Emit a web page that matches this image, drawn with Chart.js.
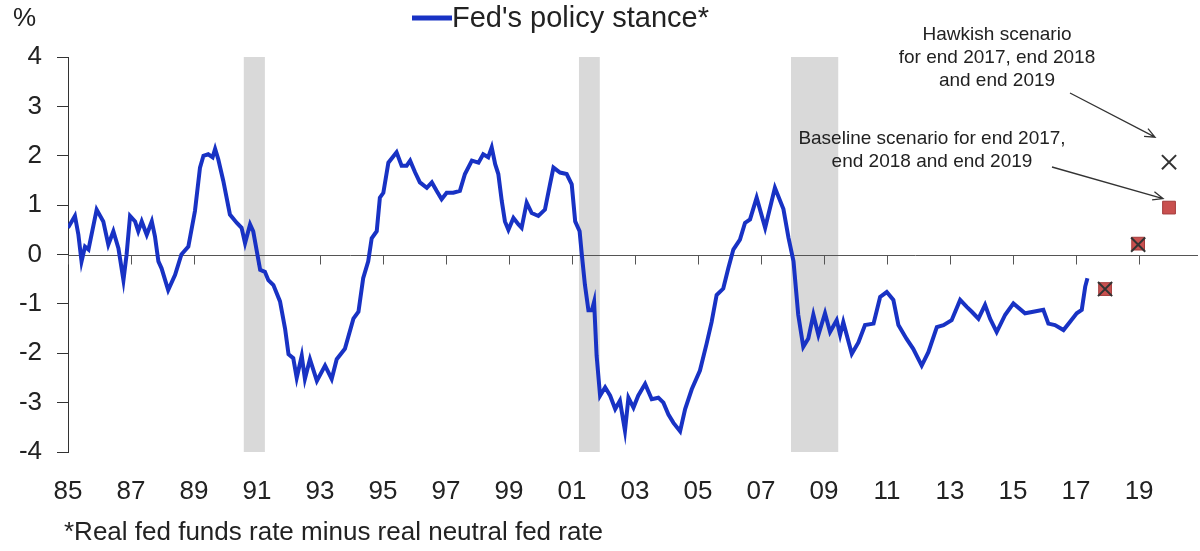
<!DOCTYPE html>
<html>
<head>
<meta charset="utf-8">
<script src="https://cdn.jsdelivr.net/npm/chart.js@4.4.0/dist/chart.umd.min.js"></script>
<style>
  body { margin: 0; background: #fff; }
  #wrap { position: relative; width: 1200px; height: 551px; }
</style>
</head>
<body>
<div id="wrap"><canvas id="stanceChart"></canvas></div>
<script>
// Fed's policy stance (real fed funds rate minus real neutral rate)
const stanceYears = [
  1985.00, 1985.22, 1985.33, 1985.43, 1985.54, 1985.65, 1985.91, 1986.12, 1986.28, 1986.44,
  1986.60, 1986.76, 1986.86, 1986.97, 1987.13, 1987.23, 1987.34, 1987.50, 1987.66, 1987.76,
  1987.87, 1987.97, 1988.18, 1988.40, 1988.60, 1988.82, 1989.03, 1989.19, 1989.30, 1989.45,
  1989.59, 1989.67, 1989.77, 1989.93, 1990.14, 1990.36, 1990.51, 1990.62, 1990.78, 1990.88,
  1991.10, 1991.25, 1991.36, 1991.52, 1991.73, 1991.89, 1992.00, 1992.15, 1992.26, 1992.42,
  1992.52, 1992.68, 1992.90, 1993.16, 1993.37, 1993.53, 1993.79, 1994.06, 1994.22, 1994.37,
  1994.53, 1994.64, 1994.80, 1994.90, 1995.01, 1995.17, 1995.43, 1995.59, 1995.75, 1995.86,
  1996.02, 1996.17, 1996.39, 1996.55, 1996.70, 1996.86, 1997.02, 1997.23, 1997.44, 1997.60,
  1997.82, 1998.03, 1998.18, 1998.34, 1998.45, 1998.56, 1998.66, 1998.77, 1998.87, 1998.98,
  1999.14, 1999.30, 1999.40, 1999.56, 1999.72, 1999.93, 2000.14, 2000.30, 2000.41, 2000.62,
  2000.83, 2000.99, 2001.10, 2001.24, 2001.31, 2001.41, 2001.52, 2001.63, 2001.70, 2001.78,
  2001.89, 2002.05, 2002.21, 2002.37, 2002.52, 2002.68, 2002.79, 2002.95, 2003.10, 2003.32,
  2003.53, 2003.74, 2003.90, 2004.06, 2004.22, 2004.43, 2004.59, 2004.80, 2005.06, 2005.27,
  2005.43, 2005.59, 2005.80, 2005.96, 2006.12, 2006.33, 2006.49, 2006.65, 2006.86, 2007.13,
  2007.44, 2007.71, 2007.87, 2008.03, 2008.18, 2008.34, 2008.50, 2008.66, 2008.82, 2009.03,
  2009.19, 2009.40, 2009.51, 2009.61, 2009.88, 2010.09, 2010.30, 2010.57, 2010.78, 2010.99,
  2011.20, 2011.36, 2011.62, 2011.83, 2012.10, 2012.31, 2012.58, 2012.79, 2013.05, 2013.32,
  2013.53, 2013.69, 2013.90, 2014.11, 2014.27, 2014.48, 2014.75, 2015.01, 2015.38, 2015.64,
  2015.96, 2016.12, 2016.33, 2016.60, 2016.81, 2017.02, 2017.18, 2017.29, 2017.36
];
const stanceValues = [
  0.54, 0.78, 0.40, -0.14, 0.16, 0.10, 0.91, 0.67, 0.20, 0.47,
  0.13, -0.52, 0.00, 0.78, 0.67, 0.47, 0.67, 0.40, 0.67, 0.37,
  -0.14, -0.28, -0.72, -0.41, 0.00, 0.16, 0.88, 1.76, 2.00, 2.03,
  1.97, 2.14, 1.93, 1.49, 0.81, 0.64, 0.54, 0.23, 0.61, 0.47,
  -0.31, -0.35, -0.52, -0.62, -0.95, -1.50, -2.02, -2.10, -2.50, -2.05,
  -2.52, -2.12, -2.56, -2.25, -2.52, -2.12, -1.91, -1.30, -1.16, -0.48,
  -0.14, 0.33, 0.47, 1.15, 1.25, 1.86, 2.07, 1.80, 1.80, 1.90,
  1.66, 1.46, 1.35, 1.46, 1.29, 1.12, 1.25, 1.25, 1.29, 1.63,
  1.90, 1.86, 2.03, 1.97, 2.17, 1.83, 1.63, 1.08, 0.67, 0.50,
  0.74, 0.61, 0.54, 1.05, 0.84, 0.78, 0.91, 1.42, 1.76, 1.66,
  1.63, 1.42, 0.67, 0.47, 0.00, -0.62, -1.13, -1.13, -0.96, -2.05,
  -2.86, -2.69, -2.86, -3.13, -2.96, -3.57, -2.90, -3.10, -2.86, -2.62,
  -2.93, -2.90, -3.00, -3.24, -3.41, -3.58, -3.13, -2.73, -2.35, -1.81,
  -1.37, -0.82, -0.69, -0.28, 0.10, 0.30, 0.64, 0.71, 1.15, 0.54,
  1.35, 0.92, 0.34, -0.14, -1.22, -1.87, -1.70, -1.22, -1.63, -1.19,
  -1.57, -1.33, -1.63, -1.37, -2.01, -1.78, -1.43, -1.40, -0.86, -0.76,
  -0.92, -1.43, -1.71, -1.91, -2.25, -1.98, -1.47, -1.43, -1.33, -0.92,
  -1.06, -1.16, -1.30, -1.02, -1.30, -1.57, -1.22, -0.99, -1.19, -1.16,
  -1.12, -1.40, -1.43, -1.53, -1.36, -1.19, -1.12, -0.65, -0.48
];

// scenarios for end 2017, end 2018 and end 2019
const scenarioYears = [2017.92, 2018.97, 2019.95];
const baselineValues = [-0.70, 0.22, 0.95];
const hawkishValues = [-0.70, 0.20, 1.87];

// recessions (start, end)
const recessionStarts = [1990.58, 2001.22, 2007.95];
const recessionEnds = [1991.25, 2001.88, 2009.45];

const xTickYears = [1985, 1987, 1989, 1991, 1993, 1995, 1997, 1999, 2001, 2003, 2005, 2007, 2009, 2011, 2013, 2015, 2017, 2019];
const xTickLabels = ['85', '87', '89', '91', '93', '95', '97', '99', '01', '03', '05', '07', '09', '11', '13', '15', '17', '19'];

const FONT = '"Liberation Sans", Arial, Helvetica, sans-serif';
const LINE_BLUE = 'rgb(24, 50, 196)';

const toPoints = (xs, ys) => xs.map((x, i) => ({ x: x, y: ys[i] }));

// gray recession bands + zero line with its tick marks
const backdrop = {
  id: 'backdrop',
  beforeDatasetsDraw(chart) {
    const { ctx, chartArea, scales } = chart;
    const x = scales.x;
    const y = scales.y;
    ctx.save();
    ctx.fillStyle = '#d9d9d9';
    recessionStarts.forEach((s, i) => {
      const x0 = x.getPixelForValue(s);
      const x1 = x.getPixelForValue(recessionEnds[i]);
      ctx.fillRect(x0, chartArea.top, x1 - x0, chartArea.bottom - chartArea.top);
    });
    const y0 = Math.round(y.getPixelForValue(0)) + 0.5;
    ctx.strokeStyle = '#555';
    ctx.lineWidth = 1;
    ctx.beginPath();
    ctx.moveTo(chartArea.left, y0);
    ctx.lineTo(chartArea.right, y0);
    xTickYears.forEach((yr) => {
      const px = Math.round(x.getPixelForValue(yr)) + 0.5;
      ctx.moveTo(px, y0);
      ctx.lineTo(px, y0 + 9);
    });
    ctx.stroke();
    ctx.restore();
  }
};

function arrow(ctx, x1, y1, x2, y2) {
  const a = Math.atan2(y2 - y1, x2 - x1);
  const len = 11;
  ctx.beginPath();
  ctx.moveTo(x1, y1);
  ctx.lineTo(x2, y2);
  ctx.moveTo(x2 - len * Math.cos(a - 0.4), y2 - len * Math.sin(a - 0.4));
  ctx.lineTo(x2, y2);
  ctx.lineTo(x2 - len * Math.cos(a + 0.4), y2 - len * Math.sin(a + 0.4));
  ctx.stroke();
}

// legend, unit, notes and footnote
const notes = {
  id: 'notes',
  afterDraw(chart) {
    const { ctx, scales } = chart;
    const x = scales.x;
    const y = scales.y;
    ctx.save();
    ctx.fillStyle = '#222';
    ctx.textBaseline = 'middle';

    ctx.font = '26px ' + FONT;
    ctx.textAlign = 'left';
    ctx.fillText('%', 13, 19);

    // legend
    ctx.strokeStyle = LINE_BLUE;
    ctx.lineWidth = 5;
    ctx.beginPath();
    ctx.moveTo(412, 18);
    ctx.lineTo(452, 18);
    ctx.stroke();
    ctx.font = '29px ' + FONT;
    ctx.fillText("Fed's policy stance*", 452, 19);

    // scenario notes
    ctx.font = '19px ' + FONT;
    ctx.textAlign = 'center';
    ctx.fillText('Hawkish scenario', 997, 35);
    ctx.fillText('for end 2017, end 2018', 997, 58);
    ctx.fillText('and end 2019', 997, 81);
    ctx.fillText('Baseline scenario for end 2017,', 932, 139);
    ctx.fillText('end 2018 and end 2019', 932, 162);

    ctx.strokeStyle = '#333';
    ctx.lineWidth = 1.3;
    const hx = x.getPixelForValue(scenarioYears[2]);
    arrow(ctx, 1070, 93, hx - 14, y.getPixelForValue(hawkishValues[2]) - 25);
    arrow(ctx, 1052, 167, hx - 6, y.getPixelForValue(baselineValues[2]) - 9);

    ctx.font = '26px ' + FONT;
    ctx.textAlign = 'left';
    ctx.fillText('*Real fed funds rate minus real neutral fed rate', 64, 533);
    ctx.restore();
  }
};

new Chart(document.getElementById('stanceChart'), {
  type: 'line',
  data: {
    datasets: [
      {
        label: 'Hawkish scenario',
        data: toPoints(scenarioYears, hawkishValues),
        showLine: false,
        pointStyle: 'crossRot',
        pointRadius: 10,
        pointBorderWidth: 2,
        borderColor: '#333',
        backgroundColor: '#333'
      },
      {
        label: 'Baseline scenario',
        data: toPoints(scenarioYears, baselineValues),
        showLine: false,
        pointStyle: 'rect',
        pointRadius: 9,
        pointBorderWidth: 1,
        borderColor: '#a33a3a',
        backgroundColor: '#c9504f'
      },
      {
        label: "Fed's policy stance*",
        data: toPoints(stanceYears, stanceValues),
        borderColor: LINE_BLUE,
        borderWidth: 4,
        pointRadius: 0,
        tension: 0,
        fill: false
      }
    ]
  },
  options: {
    responsive: true,
    maintainAspectRatio: false,
    animation: false,
    layout: { autoPadding: false, padding: { top: 57, right: 2, left: 0, bottom: 0 } },
    plugins: {
      legend: { display: false },
      tooltip: { enabled: false }
    },
    scales: {
      x: {
        type: 'linear',
        min: 1985,
        max: 2020.87,
        grid: { display: false },
        border: { display: false },
        afterBuildTicks: (scale) => {
          scale.ticks = xTickYears.map((v) => ({ value: v }));
        },
        afterFit: (scale) => { scale.height = 99; },
        ticks: {
          autoSkip: false,
          maxRotation: 0,
          padding: 16,
          color: '#222',
          font: { family: FONT, size: 26 },
          callback: (value, index) => xTickLabels[index]
        }
      },
      y: {
        min: -4,
        max: 4,
        afterFit: (scale) => { scale.width = 68; },
        grid: {
          drawOnChartArea: false,
          drawTicks: true,
          tickLength: 11,
          color: '#333'
        },
        border: { display: true, color: '#333', width: 1 },
        ticks: {
          stepSize: 1,
          padding: 15,
          color: '#222',
          font: { family: FONT, size: 26 }
        }
      }
    }
  },
  plugins: [backdrop, notes]
});
</script>
</body>
</html>
